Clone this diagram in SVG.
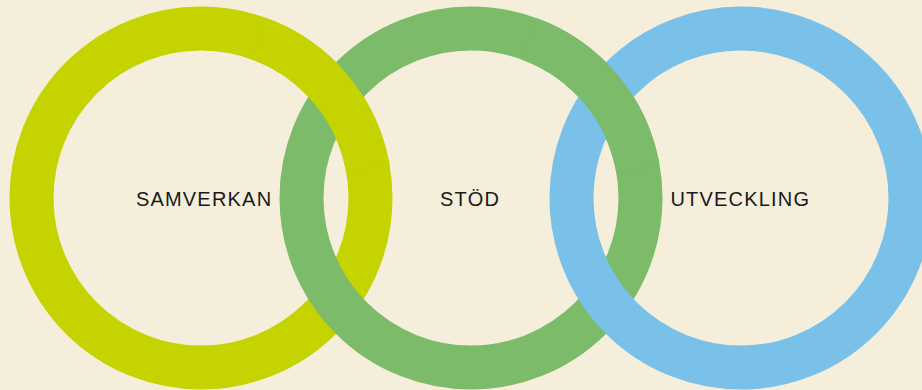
<svg xmlns="http://www.w3.org/2000/svg" width="922" height="390" viewBox="0 0 922 390">
  <style>
    .ring { fill: none; stroke-width: 44; stroke-linecap: butt; }
    .y { stroke: #c5d300; }
    .g { stroke: #7bbb6a; }
    .b { stroke: #7ac1ea; }
    .lbl { font-family: "Liberation Sans", Arial, sans-serif; font-size: 20px; letter-spacing: 1.2px; fill: #1a1a1a; text-anchor: middle; }
  </style>
  <rect width="922" height="390" fill="#f4eeda"/>
  <g id="samverkan">
    <circle class="ring y" cx="201" cy="198" r="169.5"/>
  </g>
  <g id="stod">
    <circle class="ring g" cx="471" cy="198" r="169.5"/>
  </g>
  <g id="utveckling">
    <circle class="ring b" cx="741" cy="198" r="169.5"/>
  </g>
  <g id="connectors">
    <path class="ring y" d="M 258.97 38.72 A 169.5 169.5 0 0 1 367.92 168.57"/>
    <path class="ring g" d="M 528.97 38.72 A 169.5 169.5 0 0 1 637.92 168.57"/>
  </g>
  <g id="labels">
    <text class="lbl" x="204.1" y="205.6">SAMVERKAN</text>
    <text class="lbl" x="470.1" y="205.6">STÖD</text>
    <text class="lbl" x="740.3" y="205.6">UTVECKLING</text>
  </g>
</svg>
